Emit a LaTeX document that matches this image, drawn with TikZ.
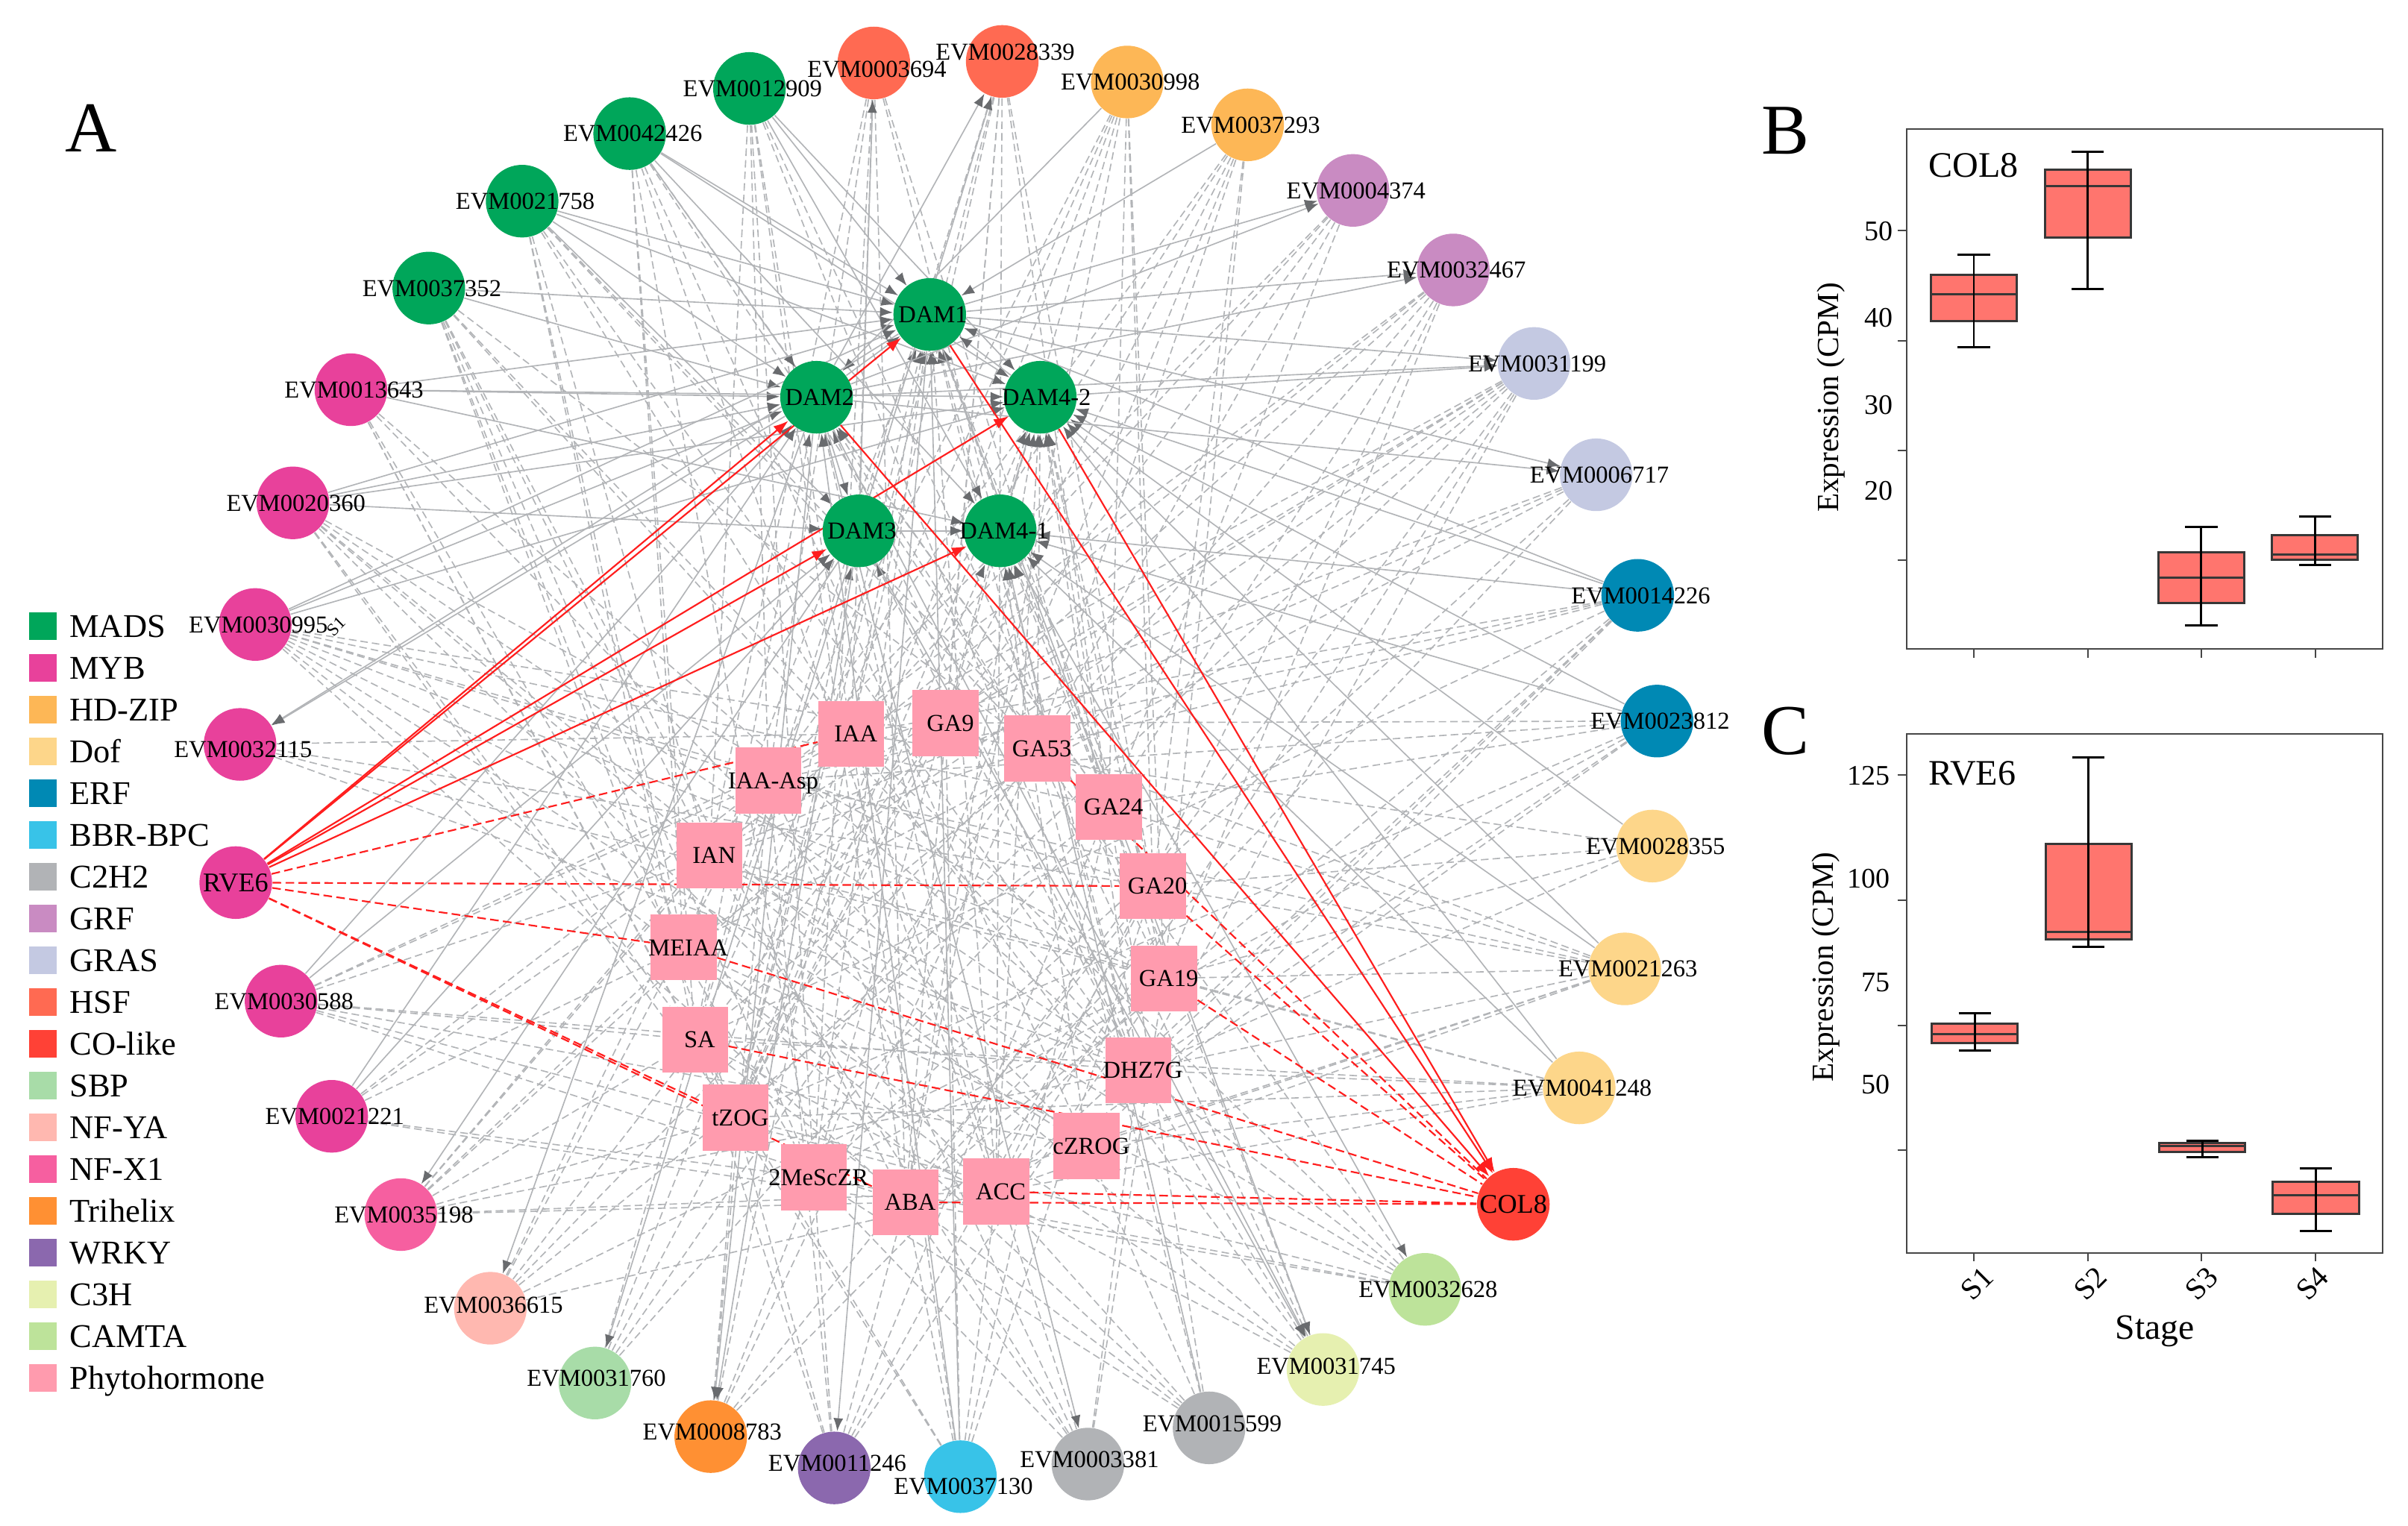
\documentclass[tikz,border=0pt]{standalone}
\usepackage{fontspec}
\setmainfont{Liberation Serif}
\usetikzlibrary{arrows.meta,calc}
\definecolor{mads}{RGB}{0,166,90}
\definecolor{myb}{RGB}{232,65,155}
\definecolor{hdzip}{RGB}{253,183,86}
\definecolor{dof}{RGB}{253,214,138}
\definecolor{erf}{RGB}{0,137,180}
\definecolor{bbr}{RGB}{56,195,232}
\definecolor{ctwoh}{RGB}{177,179,182}
\definecolor{grf}{RGB}{201,139,194}
\definecolor{gras}{RGB}{196,201,226}
\definecolor{hsf}{RGB}{255,106,82}
\definecolor{colike}{RGB}{255,65,54}
\definecolor{sbp}{RGB}{168,220,168}
\definecolor{nfya}{RGB}{255,184,176}
\definecolor{nfxone}{RGB}{246,95,160}
\definecolor{trihelix}{RGB}{255,144,51}
\definecolor{wrky}{RGB}{139,104,174}
\definecolor{cthreeh}{RGB}{230,240,176}
\definecolor{camta}{RGB}{189,227,154}
\definecolor{phyto}{RGB}{255,155,174}
\definecolor{edgegray}{RGB}{178,180,183}
\definecolor{arrowgray}{RGB}{105,107,110}
\definecolor{redline}{RGB}{255,30,30}
\definecolor{boxfill}{RGB}{255,117,110}
\definecolor{boxline}{RGB}{55,55,55}
\definecolor{framec}{RGB}{70,70,70}
\pgfdeclarelayer{back}
\pgfdeclarelayer{bg}
\pgfdeclarelayer{mid}
\pgfsetlayers{back,bg,mid,main}
\tikzset{
  gene/.style={circle,minimum size=0.946cm,inner sep=0pt,draw=none},
  hormone/.style={rectangle,minimum width=0.86cm,minimum height=0.86cm,inner sep=0pt,fill=phyto,draw=none},
  glabel/.style={inner sep=0pt,font=\fontsize{9}{10}\selectfont,text height=6pt,text depth=0pt},
  biglabel/.style={inner sep=0pt,font=\fontsize{10}{11}\selectfont,text height=6.6pt,text depth=0pt},
  sedge/.style={draw=edgegray,line width=0.45pt,-{Latex[length=4.8pt,width=3.6pt,color=arrowgray]}},
  dedge/.style={draw=edgegray,line width=0.45pt,dash pattern=on 2.8pt off 1.5pt},
  dadge/.style={draw=edgegray,line width=0.45pt,dash pattern=on 2.8pt off 1.5pt,-{Latex[length=4.8pt,width=3.6pt,color=arrowgray]}},
  rsedge/.style={draw=redline,line width=0.6pt,-{Latex[length=5.5pt,width=4pt,color=redline]}},
  rdedge/.style={draw=redline,line width=0.6pt,dash pattern=on 3.2pt off 1.6pt},
  legsq/.style={rectangle,minimum size=0.36cm,inner sep=0pt,draw=none},
  legtxt/.style={anchor=west,inner sep=0pt,font=\fontsize{12.3}{13}\selectfont,text height=8.3pt,text depth=0pt},
  panel/.style={inner sep=0pt,font=\fontsize{26.5}{30}\selectfont},
  boxst/.style={fill=boxfill,draw=boxline,line width=0.8pt},
  medst/.style={draw=boxline,line width=0.8pt},
  whisk/.style={draw=black,line width=0.8pt},
  framest/.style={draw=framec,line width=0.55pt},
  ticklbl/.style={anchor=east,inner sep=0pt,font=\fontsize{10.5}{12}\selectfont,text height=7pt,text depth=0pt},
  axtitle/.style={inner sep=0pt,font=\fontsize{11.4}{13}\selectfont},
  inlbl/.style={inner sep=0pt,font=\fontsize{13.3}{15}\selectfont,text height=8.8pt,text depth=0pt},
  stagelbl/.style={inner sep=0pt,rotate=45,font=\fontsize{11.2}{13}\selectfont}
}
\newcommand\gnode[6]{\node[gene,fill=#4] (#1) at (#2,#3) {};\node[glabel] (#1l) at ($(#1)+(#6)$) {#5};}
\newcommand\hnode[4]{\node[hormone] (#1) at (#2,#3) {};\node[glabel] (#1l) at ($(#1)+(3,0)$) {#4};}
\newcommand\bplot[7]{%
  \draw[boxst] (#1-28,#3) rectangle (#1+28,#4);
  \draw[medst] (#1-28,#5) -- (#1+28,#5);
  \draw[whisk] (#1,#6) -- (#1,#7);
  \draw[whisk] (#1-10.5,#6) -- (#1+10.5,#6);
  \draw[whisk] (#1-10.5,#7) -- (#1+10.5,#7);}
\begin{document}
\begin{tikzpicture}[x=0.02cm,y=-0.02cm]
\useasboundingbox (0,0) rectangle (1568,993.8);
\begin{pgfonlayer}{back}
\fill[white] (0,0) rectangle (1568,993.8);
\end{pgfonlayer}

% ---------- outer ring ----------
\gnode{o1}{569}{41}{hsf}{EVM0003694}{2,4}
\gnode{o2}{652.6}{40}{hsf}{EVM0028339}{2,-6}
\gnode{o3}{734}{53.4}{hdzip}{EVM0030998}{2,0}
\gnode{o4}{812.4}{81.3}{hdzip}{EVM0037293}{2,0}
\gnode{o5}{881}{124}{grf}{EVM0004374}{2,0}
\gnode{o6}{946.3}{175.8}{grf}{EVM0032467}{2,0}
\gnode{o7}{998.9}{236.7}{gras}{EVM0031199}{2,0}
\gnode{o8}{1039.4}{309.2}{gras}{EVM0006717}{2,0}
\gnode{o9}{1066.4}{387.7}{erf}{EVM0014226}{2,0}
\gnode{o10}{1079}{469.6}{erf}{EVM0023812}{2,0}
\gnode{o11}{1076}{551}{dof}{EVM0028355}{2,0}
\gnode{o12}{1058}{631}{dof}{EVM0021263}{2,0}
\gnode{o13}{1028.3}{708.5}{dof}{EVM0041248}{2,0}
\node[gene,fill=colike] (o14) at (985.4,784.3) {};
\node[biglabel] (o14l) at (o14) {COL8};
\gnode{o15}{927.9}{839.7}{camta}{EVM0032628}{2,0}
\gnode{o16}{861.5}{891.9}{cthreeh}{EVM0031745}{2,-2}
\gnode{o17}{787.3}{929.9}{ctwoh}{EVM0015599}{2,-3}
\gnode{o18}{708.4}{953.5}{ctwoh}{EVM0003381}{1,-3}
\gnode{o19}{625.4}{961.7}{bbr}{EVM0037130}{2,6}
\gnode{o20}{543.2}{956}{wrky}{EVM0011246}{2,-3}
\gnode{o21}{462.8}{935.6}{trihelix}{EVM0008783}{1,-3}
\gnode{o22}{387.4}{900.7}{sbp}{EVM0031760}{1,-3}
\gnode{o23}{319.3}{852}{nfya}{EVM0036615}{2,-2}
\gnode{o24}{261}{791}{nfxone}{EVM0035198}{2,0}
\gnode{o25}{216}{727}{myb}{EVM0021221}{2,0}
\gnode{o26}{183}{652}{myb}{EVM0030588}{2,0}
\node[gene,fill=myb] (o27) at (153.5,574.8) {};
\node[biglabel] (o27l) at (o27) {RVE6};
\gnode{o28}{156.3}{484.8}{myb}{EVM0032115}{2,3}
\gnode{o29}{166.2}{406.7}{myb}{EVM0030995}{2,0}
\gnode{o30}{190.7}{327.5}{myb}{EVM0020360}{2,0}
\gnode{o31}{228.5}{253.8}{myb}{EVM0013643}{2,0}
\gnode{o32}{279.2}{187.6}{mads}{EVM0037352}{2,0}
\gnode{o33}{340}{131}{mads}{EVM0021758}{2,0}
\gnode{o34}{410}{87}{mads}{EVM0042426}{2,0}
\gnode{o35}{488}{57.6}{mads}{EVM0012909}{2,0}
\node[inner sep=0pt,rotate=45,font=\fontsize{6.5}{7}\selectfont] (stray) at (219,408) {S1};

% ---------- DAM core ----------
\gnode{d1}{605.4}{204.8}{mads}{DAM1}{2,0}
\gnode{d2}{531.7}{258.7}{mads}{DAM2}{2,0}
\gnode{d42}{677.4}{258.7}{mads}{DAM4-2}{4,0}
\gnode{d3}{559.3}{345.7}{mads}{DAM3}{2,0}
\gnode{d41}{651.3}{345.7}{mads}{DAM4-1}{2.5,0}

% ---------- phytohormones ----------
\hnode{h1}{554.3}{478}{IAA}
\hnode{h2}{615.8}{470.9}{GA9}
\hnode{h3}{675.4}{487.4}{GA53}
\hnode{h4}{500.4}{508.4}{IAA-Asp}
\hnode{h5}{722}{525.5}{GA24}
\hnode{h6}{462}{557.2}{IAN}
\hnode{h7}{750.7}{577.1}{GA20}
\hnode{h8}{445.2}{617}{MEIAA}
\hnode{h9}{758}{637.2}{GA19}
\hnode{h10}{452.6}{677}{SA}
\hnode{h11}{741.2}{697}{DHZ7G}
\hnode{h12}{479}{727.9}{tZOG}
\hnode{h13}{707.6}{746.4}{cZROG}
\hnode{h14}{530}{766.7}{2MeScZR}
\hnode{h15}{589.6}{783}{ABA}
\hnode{h16}{648.7}{776}{ACC}

% ---------- gray edges ----------
\begin{pgfonlayer}{bg}
\foreach \i in {1,...,13,15,16,...,26,28,29,...,35}{
  \foreach \j in {1,...,16}{
    \pgfmathtruncatemacro\hh{mod(\i*\i*3+\j*\j*5+\i*\j*7+\i+\j*3,17)}
    \ifnum\hh<7 \draw[dedge] (o\i) -- (h\j);\fi
  }
}
\foreach \dn [count=\d] in {d1,d2,d3,d41,d42}{
  \foreach \j in {1,...,16}{
    \pgfmathtruncatemacro\hh{mod(\d*\d*5+\j*\j*3+\d*\j*7+\j,13)}
    \ifnum\hh<5 \draw[dadge] (h\j) -- (\dn);\fi
  }
}
\foreach \a/\b in {o35/d1,o35/d42,o35/d41,o34/d1,o34/d42,o34/d41,o34/d2,
  o33/d1,o33/d2,o33/d42,o33/d3,o32/d1,o32/d2,o31/d2,o31/d1,o31/d42,o31/d41,
  o30/d2,o30/d1,o30/d42,o30/d3,o29/d1,o29/d2,o29/d42,o26/d2,o26/d3,o25/d3,o25/d2,
  o19/d1,o19/d2,o17/d41,o13/d41,o13/d42,o12/d42,o12/d41,o11/d42,o10/d42,o10/d41,
  o9/d42,o9/d41,o9/d1,o4/d1,o3/d2,
  d1/o28,d2/o28,d3/o24,d2/o23,d3/o22,d3/o21,d2/o21,d1/o20,d2/o18,d2/o16,d3/o16,d1/o16,
  d41/o15,d1/o8,d2/o8,d1/o7,d2/o7,d42/o7,d1/o6,d2/o6,d1/o5,d2/o5,d2/o2,d3/o2,d3/o1,
  d2/d1,d42/d1,d2/d3,d41/d42,d3/d41}
  \draw[sedge] (\a) -- (\b);
\end{pgfonlayer}

% ---------- red edges ----------
\begin{pgfonlayer}{mid}
\foreach \b in {d1,d2,d3,d41,d42} \draw[rsedge] (o27) -- (\b);
\foreach \a in {d1,d2,d42} \draw[rsedge] (\a) -- (o14);
\foreach \b in {h1,h7,h8,h12,h15} \draw[rdedge] (o27) -- (\b);
\foreach \a in {h3,h7,h9,h8,h10,h16,h15} \draw[rdedge] (\a) -- (o14);
\end{pgfonlayer}

% ---------- legend ----------
\foreach \lt/\lc [count=\k from 0] in {MADS/mads,MYB/myb,HD-ZIP/hdzip,Dof/dof,ERF/erf,BBR-BPC/bbr,C2H2/ctwoh,GRF/grf,GRAS/gras,HSF/hsf,CO-like/colike,SBP/sbp,NF-YA/nfya,NF-X1/nfxone,Trihelix/trihelix,WRKY/wrky,C3H/cthreeh,CAMTA/camta,Phytohormone/phyto}{
  \node[legsq,fill=\lc] (leg\k) at (28,{408+27.2*\k}) {};
  \node[legtxt] (legt\k) at (45,{408+27.2*\k}) {\lt};
}
\node[panel] (pA) at (59.3,83.5) {A};

% ---------- panel B ----------
\node[panel] (pB) at (1162.4,85) {B};
\bplot{1285.3}{}{178.9}{209.2}{191.7}{165.8}{225.9}
\bplot{1359.5}{}{110.3}{154.7}{121.2}{99}{188.1}
\bplot{1433.4}{}{359.8}{392.5}{376.3}{343.1}{407.3}
\bplot{1507.4}{}{348.4}{364.6}{361}{336.3}{367.8}
\draw[framest] (1241.5,84) rectangle (1551.3,422.8);
\foreach \ty in {150.3,222,293.4,364.9} \draw[framest] (1235.5,\ty) -- (1241.5,\ty);
\foreach \tx in {1285.5,1359.4,1433.4,1507.6} \draw[framest] (\tx,422.8) -- (\tx,428.6);
\node[ticklbl] (b50) at (1232.8,150.3) {50};
\node[ticklbl] (b40) at (1232.8,206.7) {40};
\node[ticklbl] (b30) at (1232.8,263.6) {30};
\node[ticklbl] (b20) at (1232.8,319.4) {20};
\node[axtitle,rotate=90] (bytitle) at (1192.5,258.8) {Expression (CPM)};
\node[inlbl] (bname) at (1285,107.5) {COL8};

% ---------- panel C ----------
\node[panel] (pC) at (1162.4,476) {C};
\bplot{1285.9}{}{666.6}{679.2}{673.3}{659.9}{684.1}
\bplot{1360}{}{549.8}{612}{606.9}{493.2}{616.8}
\bplot{1434}{}{744.4}{750.3}{746.2}{742.8}{753.5}
\bplot{1508}{}{769.6}{790.5}{778.4}{760.7}{801.7}
\draw[framest] (1241.5,478.2) rectangle (1551.5,815.9);
\foreach \ty in {504.5,586.2,667.7,748.9} \draw[framest] (1235.5,\ty) -- (1241.5,\ty);
\foreach \tx in {1285.5,1359.4,1433.4,1507.6} \draw[framest] (\tx,815.9) -- (\tx,821.5);
\node[ticklbl] (c125) at (1230.9,505) {125};
\node[ticklbl] (c100) at (1230.9,572) {100};
\node[ticklbl] (c75) at (1230.9,639.6) {75};
\node[ticklbl] (c50) at (1230.9,706) {50};
\node[axtitle,rotate=90] (cytitle) at (1189,629.7) {Expression (CPM)};
\node[inlbl] (cname) at (1284.4,503.7) {RVE6};
\node[stagelbl] (s1) at (1287.4,836) {S1};
\node[stagelbl] (s2) at (1361,836) {S2};
\node[stagelbl] (s3) at (1433.4,836) {S3};
\node[stagelbl] (s4) at (1505.7,836) {S4};
\node[inner sep=0pt,font=\fontsize{13.2}{15}\selectfont] (stage) at (1403.3,866.8) {Stage};
\end{tikzpicture}
\end{document}
